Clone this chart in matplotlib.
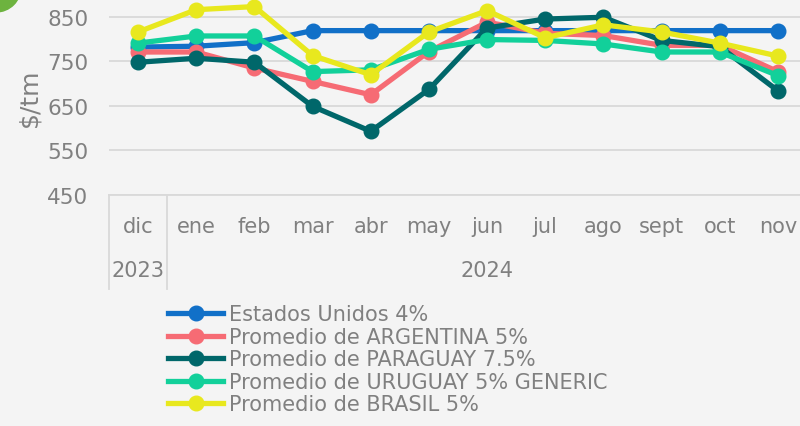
import matplotlib.pyplot as plt
from matplotlib.patches import Ellipse

months = ["dic", "ene", "feb", "mar", "abr", "may", "jun", "jul", "ago", "sept", "oct", "nov"]
years = ["2023", "2024"]

usa = [782, 784, 792, 819, 819, 819, 819, 819, 819, 819, 819, 819]
argentina = [771, 771, 735, 705, 675, 772, 838, 813, 808, 786, 786, 727]
paraguay = [748, 757, 748, 649, 593, 687, 825, 845, 849, 797, 783, 684]
uruguay = [791, 807, 807, 727, 731, 777, 799, 797, 789, 771, 771, 718]
brasil = [816, 866, 873, 763, 720, 816, 864, 803, 832, 816, 791, 762]

series = [
    ("Estados Unidos 4%", usa, "#1170c8"),
    ("Promedio de ARGENTINA 5%", argentina, "#f66b74"),
    ("Promedio de PARAGUAY 7.5%", paraguay, "#00676a"),
    ("Promedio de URUGUAY 5% GENERIC", uruguay, "#12d09a"),
    ("Promedio de BRASIL 5%", brasil, "#e8e81e"),
]

bg = "#f4f4f4"
grey = "#808080"
plt.rcParams["font.family"] = ["DejaVu Sans"]

fig = plt.figure(figsize=(8, 4.27), dpi=100, facecolor=bg)
ax = fig.add_axes([109 / 800, 1 - 196 / 427, 698 / 800, 196 / 427])
ax.set_facecolor(bg)

x = list(range(len(months)))
for name, vals, col in series:
    ax.plot(x, vals, color=col, lw=3.8, marker="o", ms=10.5, label=name, clip_on=False)

ax.set_xlim(-0.5, len(months) - 0.5)
ax.set_ylim(450, 890)
ax.set_yticks([450, 550, 650, 750, 850])
ax.yaxis.grid(True, color="#d9d9d9", lw=1.3)
ax.set_axisbelow(True)
for s in ["top", "right", "left"]:
    ax.spines[s].set_visible(False)
ax.spines["bottom"].set_color("#d9d9d9")
ax.spines["bottom"].set_linewidth(1.3)
ax.tick_params(axis="y", length=0, labelsize=15.5, labelcolor=grey, pad=15)
ax.tick_params(axis="x", length=0, labelbottom=False)
ax.set_ylabel("$/tm", fontsize=18, color=grey, labelpad=4)

# category axis: months, years, separators
for i, m in enumerate(months):
    ax.annotate(m, (i, 0), xycoords=("data", "axes fraction"), xytext=(0, -31),
                textcoords="offset pixels", ha="center", va="center", fontsize=15, color=grey)
ax.annotate(years[0], (0, 0), xycoords=("data", "axes fraction"), xytext=(0, -75),
            textcoords="offset pixels", ha="center", va="center", fontsize=15, color=grey)
ax.annotate(years[1], ((1 + len(months) - 1) / 2, 0), xycoords=("data", "axes fraction"),
            xytext=(0, -75), textcoords="offset pixels", ha="center", va="center",
            fontsize=15, color=grey)
for xs in [-0.5, 0.5]:
    ax.plot([xs, xs], [0, -94 / 196], color="#d9d9d9", lw=1.3,
            transform=ax.get_xaxis_transform(), clip_on=False)

fig.legend(loc="upper left", bbox_to_anchor=(158 / 800, 1 - 295 / 427), frameon=False,
           fontsize=15, labelcolor=grey, handlelength=2.6, handletextpad=0.3,
           labelspacing=0.12, borderpad=0)

fig.patches.append(Ellipse((-4 / 800, 1 + 12 / 427), 50 / 800, 50 / 427, color="#6db33f",
                           transform=fig.transFigure, figure=fig))

fig.savefig("out.png", dpi=100, facecolor=bg)
